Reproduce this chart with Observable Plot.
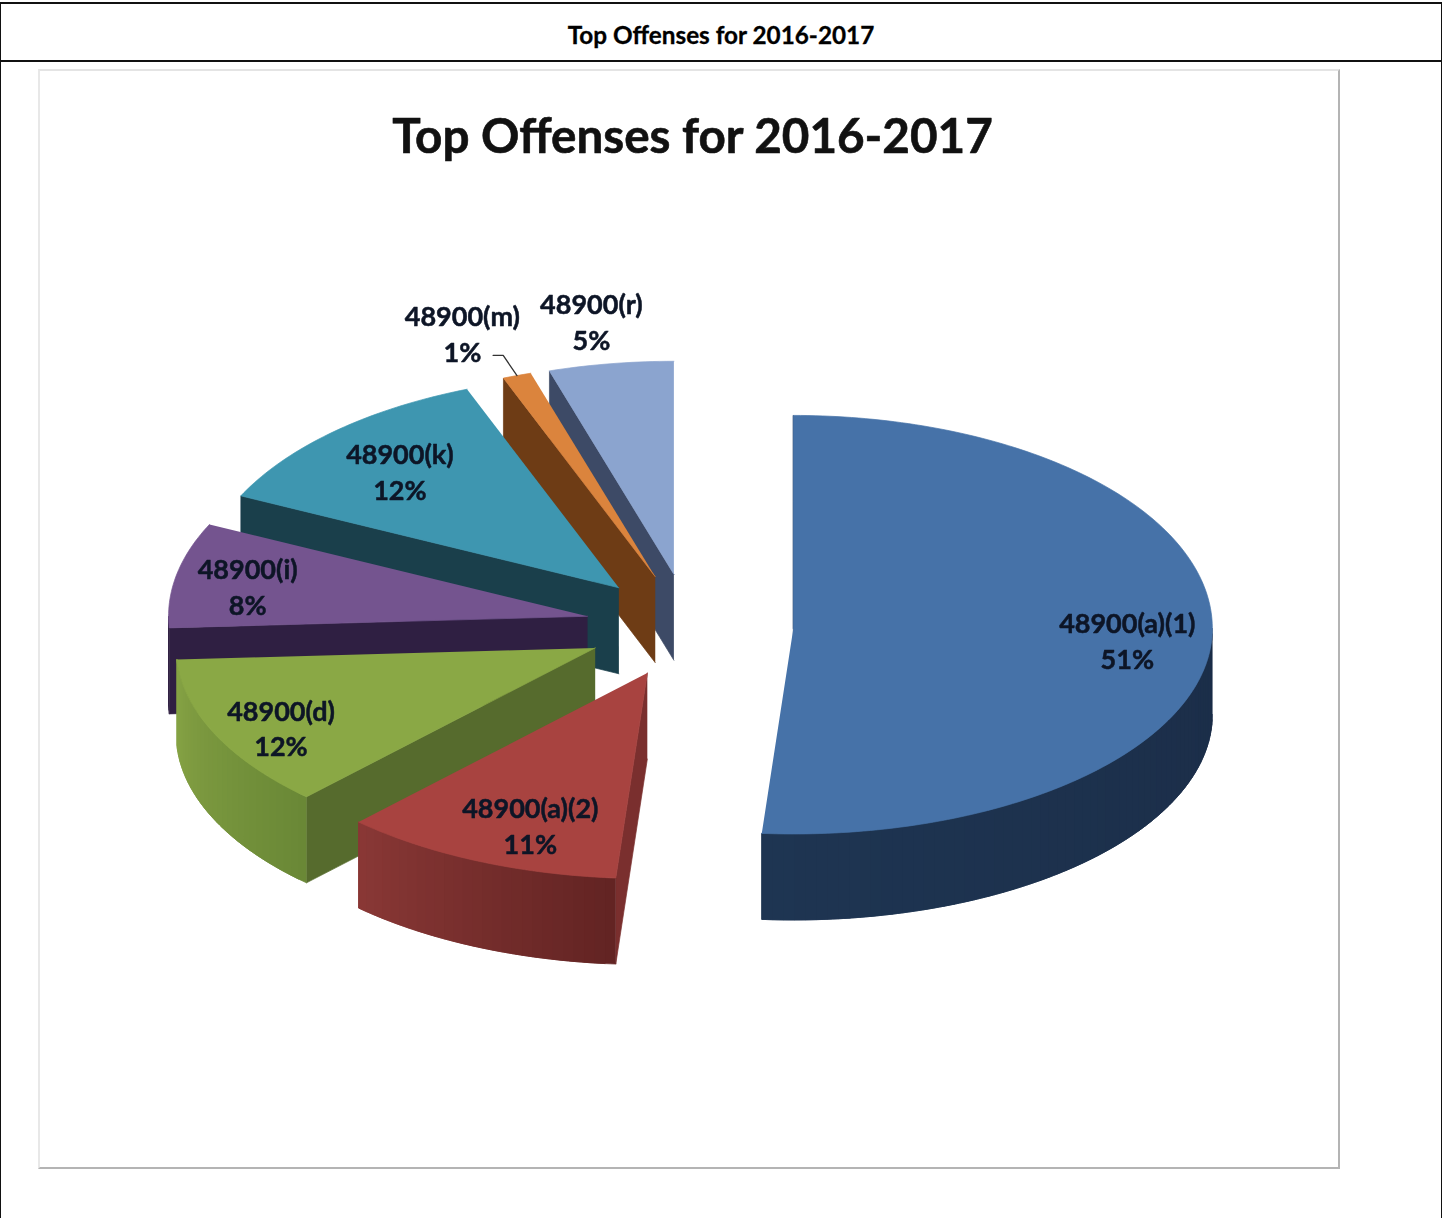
<!DOCTYPE html>
<html>
<head>
<meta charset="utf-8">
<script src="https://cdn.jsdelivr.net/npm/d3@7"></script>
<script src="https://cdn.jsdelivr.net/npm/@observablehq/plot@0.6"></script>
<style>
  html, body { margin: 0; padding: 0; background: #fff; }
  #page { position: relative; width: 1442px; height: 1218px; overflow: hidden; }
  #header { box-sizing: border-box; height: 60px; border-top: 2px solid #111; border-bottom: 2px solid #111;
    border-left: 1.5px solid #111; border-right: 1.5px solid #111; margin-top: 2px; margin-bottom: -2px;
    font: 700 24.3px Lato, sans-serif; color: #000; text-align: center; line-height: 62px; -webkit-text-stroke: 0.3px #000; }
  #side { position: absolute; left: 0; right: 0; top: 60px; bottom: 0; border-left: 1.5px solid #111; border-right: 1.5px solid #111; }
  #panel { position: absolute; left: 38px; top: 69px; width: 1302px; height: 1100px; box-sizing: border-box;
    border-top: 2px solid #e4e4e4; border-left: 2px solid #e8e8e8; border-right: 2.5px solid #b4b4b4; border-bottom: 2.5px solid #b4b4b4; }
  #chart { position: absolute; left: 0; top: 60px; }
  #chart svg { display: block; background: transparent; }
</style>
</head>
<body>
<div id="page">
  <div id="side"></div>
  <div id="panel"></div>
  <div id="header">Top Offenses for 2016-2017</div>
  <div id="chart"></div>
</div>
<script>
const titleText = "Top Offenses for 2016-2017";
const categories = ["48900(a)(1)", "48900(a)(2)", "48900(d)", "48900(i)", "48900(k)", "48900(m)", "48900(r)"];
const shares = [51.2, 10.9, 12, 8, 12, 1.1, 4.8];
const percentLabels = ["51%", "11%", "12%", "8%", "12%", "1%", "5%"];

const topColors = ["#4672a8", "#a84340", "#8aa845", "#74548f", "#3e96b0", "#db843d", "#8ba4cf"];
const wallColors = ["#1c2e4a", "#7a2f2e", "#566b2d", "#2f1f42", "#1a3f4b", "#6e3c15", "#3d4a66"];
const rimFrom = ["#1b2d48", "#632423", "#6a8836", "#2f1f42", "#1a3f4b", "#6e3c15", "#3d4a66"];
const rimTo = ["#1e3552", "#8a3836", "#87a445", "#2f1f42", "#1a3f4b", "#6e3c15", "#3d4a66"];

// layout of the tilted pie on the page
const W = 1442, H = 1158, headerH = 60;
const pieX = 689, pieY = 626, radiusX = 419, radiusY = 213;
const explode = 0.248, depth = 86 / radiusY, frontSquash = 0.965;
// pixel nudges of the data labels from their radial anchor
const labelNudge = [[-1, 4.5], [19, 1], [-10, 10], [-11, 2.5], [9, 8], [-27, -3], [-7, -1.5]];

const rad = d => d * Math.PI / 180;
const squash = v => v < 0 ? v * frontSquash : v;
const total = d3.sum(shares);
let running = 0;
const slices = shares.map((s, i) => {
  const a0 = running / total * 360;
  running += s;
  const a1 = running / total * 360;
  const mid = (a0 + a1) / 2;
  return {
    i, a0, a1, mid,
    cu: explode * Math.sin(rad(mid)),
    cv: squash(explode * Math.cos(rad(mid)))
  };
});

const rim = (s, a, r = 1) => [s.cu + r * Math.sin(rad(a)), s.cv + squash(r * Math.cos(rad(a)))];
const faces = [];
let faceId = 0;
const addFace = (pts, color) => {
  const id = faceId++;
  pts.forEach(([u, v]) => faces.push({u, v, id, color}));
};

for (const s of slices.slice().reverse()) {
  const c = [s.cu, s.cv];
  const down = ([u, v]) => [u, v - depth];
  // radial wall below the leading edge
  const p0 = rim(s, s.a0);
  addFace([c, p0, down(p0), down(c)], wallColors[s.i]);
  // outer rim, in overlapping strips so that the shading changes along the arc
  const lo = Math.max(s.a0, 90), hi = Math.min(s.a1, 270);
  if (hi > lo) {
    const mix = d3.interpolateRgb(rimFrom[s.i], rimTo[s.i]);
    const n = Math.ceil((hi - lo) / 1.5);
    for (let k = 0; k < n; k++) {
      const a = lo + (hi - lo) * k / n;
      const b = lo + (hi - lo) * Math.min(k + 2, n) / n;
      const pts = [];
      for (let j = 0; j <= 4; j++) pts.push(rim(s, a + (b - a) * j / 4));
      const bottom = pts.map(down).reverse();
      addFace(pts.concat(bottom), d3.color(mix(k / n)).formatHex());
    }
  }
  // top face
  const top = [c];
  const n = Math.ceil(s.a1 - s.a0);
  for (let k = 0; k <= n; k++) top.push(rim(s, s.a0 + (s.a1 - s.a0) * k / n));
  addFace(top, topColors[s.i]);
}

const labelRows = slices.map(s => {
  const r = shares[s.i] < 6 ? 1.2 : 0.8;
  const [u, v] = rim(s, s.mid, r);
  const [nx, ny] = labelNudge[s.i];
  return {u: u + nx / radiusX, v: v - ny / radiusY, text: categories[s.i] + "\n" + percentLabels[s.i]};
});

const small = slices[5];
const [lu1, lv1] = rim(small, small.mid, 1);
const [lu2, lv2] = rim(small, small.mid, 1.1);
const leader = [{u: lu1, v: lv1}, {u: lu2, v: lv2}, {u: lu2 - 0.024, v: lv2}];

const chart = Plot.plot({
  width: W,
  height: H,
  margin: 0,
  x: {domain: [(0 - pieX) / radiusX, (W - pieX) / radiusX], range: [0, W], axis: null},
  y: {domain: [(pieY - headerH) / radiusY, (pieY - headerH - H) / radiusY], range: [0, H], axis: null},
  color: {type: "identity"},
  style: {background: "transparent", filter: "blur(0.5px)"},
  marks: [
    Plot.line(faces, {x: "u", y: "v", z: "id", fill: "color", stroke: "color", strokeWidth: 0.7, curve: "linear"}),
    Plot.line(leader, {x: "u", y: "v", stroke: "#333", strokeWidth: 1.3, curve: "linear"}),
    Plot.text(labelRows, {
      x: "u", y: "v", text: "text", lineHeight: 1.33, textAnchor: "middle",
      fontFamily: "Lato, sans-serif", fontWeight: 700, fontSize: 27, fill: "#0d1526",
      stroke: "#0d1526", strokeWidth: 0.5
    }),
    Plot.text([titleText], {
      frameAnchor: "top", dx: -29, dy: 77, text: d => d, lineAnchor: "middle",
      fontFamily: "Lato, sans-serif", fontWeight: 700, fontSize: 47.6, fill: "#111",
      stroke: "#111", strokeWidth: 0.6
    })
  ]
});
document.getElementById("chart").append(chart);
</script>
</body>
</html>
